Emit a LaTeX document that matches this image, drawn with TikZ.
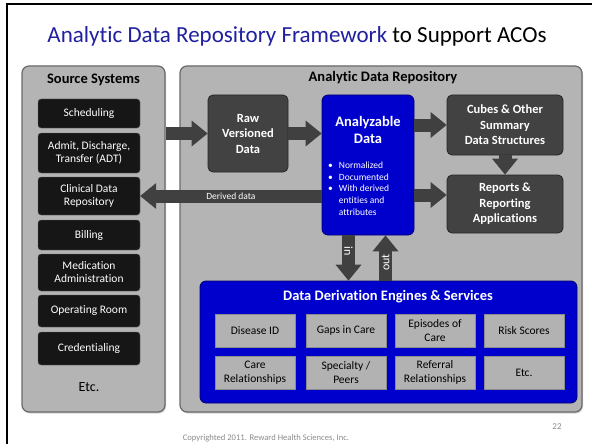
\documentclass[tikz,border=0pt]{standalone}
\usepackage{fontspec}
\setmainfont{Carlito}[Ligatures=NoCommon]
\usetikzlibrary{arrows.meta,shadows}
\definecolor{titleblue}{RGB}{32,32,160}
\definecolor{panelgray}{RGB}{180,180,180}
\definecolor{paneledge}{RGB}{105,105,105}
\definecolor{arrowgray}{RGB}{64,64,64}
\definecolor{boxblack}{RGB}{22,22,22}
\definecolor{boxdark}{RGB}{66,66,66}
\definecolor{engineblue}{RGB}{0,0,205}
\definecolor{cellgray}{RGB}{178,178,178}
\definecolor{footgray}{RGB}{140,140,140}
\begin{document}
\begin{tikzpicture}[
  x=1pt, y=-1pt,
  panel/.style={draw=paneledge, line width=1.2pt, fill=panelgray, rounded corners=7pt, inner sep=0pt,
    drop shadow={shadow xshift=1pt, shadow yshift=-1.5pt, opacity=.35}},
  paneltitle/.style={font=\fontsize{14.5}{17}\selectfont\bfseries},
  source/.style={draw=black!60, fill=boxblack, text=white, rounded corners=3pt, minimum width=102pt,
    inner sep=0pt, align=center, font=\fontsize{11.5}{13}\selectfont},
  store/.style={draw=black!85, line width=.8pt, fill=boxdark, text=white, rounded corners=5pt,
    inner sep=0pt, align=center, font=\fontsize{12.5}{15.5}\selectfont\bfseries},
  bluebox/.style={draw=blue!45!black, line width=.8pt, fill=engineblue, rounded corners=6pt, inner sep=0pt},
  service/.style={draw=black!45, fill=cellgray, minimum width=80pt, minimum height=33pt, inner sep=0pt,
    align=center, font=\fontsize{11.5}{14}\selectfont},
  flow/.style={draw=arrowgray, line width=13pt, -{Triangle[length=16pt, width=26pt, line width'=0pt]}},
  flowlabel/.style={text=white, font=\fontsize{9.5}{11}\selectfont},
]
\useasboundingbox (0,0) rectangle (592,444);
\fill[white] (0,0) rectangle (592,444);
\draw[line width=2pt] (7,460) -- (7,4) -- (600,4);

\node[font=\fontsize{23}{27}\selectfont] (title) at (297,36)
  {{\color{titleblue}Analytic Data Repository Framework} to Support ACOs};

% source systems
\node[panel, minimum width=143pt, minimum height=346pt] (src) at (93.5,239) {};
\node[paneltitle] (src title) at (93.5,80) {Source Systems};
\node[source, minimum height=29pt] (sched) at (89,113.5) {Scheduling};
\node[source, minimum height=40pt] (adt) at (89,153) {Admit, Discharge,\\Transfer (ADT)};
\node[source, minimum height=38pt] (cdr) at (89,196) {Clinical Data\\Repository};
\node[source, minimum height=30pt] (billing) at (89,235) {Billing};
\node[source, minimum height=37pt] (meds) at (89,272.5) {Medication\\Administration};
\node[source, minimum height=32pt] (orroom) at (89,311) {Operating Room};
\node[source, minimum height=33pt] (cred) at (89,348.5) {Credentialing};
\node[font=\fontsize{14}{16}\selectfont] (src etc) at (89,387) {Etc.};

% analytic data repository
\node[panel, minimum width=402pt, minimum height=346pt] (adr) at (381,239) {};
\node[paneltitle] (adr title) at (383,78) {Analytic Data Repository};
\node[store, minimum width=80pt, minimum height=77pt] (raw) at (248,133.5) {Raw\\Versioned\\Data};
\node[bluebox, minimum width=92pt, minimum height=140pt] (ana) at (368,165) {};
\node[text=white, align=center, font=\fontsize{14.5}{17}\selectfont\bfseries] (ana title) at (368,130)
  {Analyzable\\Data};
\node[text=white, anchor=north west, inner sep=0pt, font=\fontsize{9.5}{11.7}\selectfont] (ana list) at (328,160)
  {\begin{tabular}{@{}l@{\hspace{6pt}}l@{}}
   \textbullet & Normalized\\
   \textbullet & Documented\\
   \textbullet & With derived\\
               & entities and\\
               & attributes
   \end{tabular}};
\node[store, minimum width=116pt, minimum height=60pt] (cubes) at (505,125)
  {Cubes \& Other\\Summary\\Data Structures};
\node[store, minimum width=116pt, minimum height=58pt] (reports) at (505,204)
  {Reports \&\\Reporting\\Applications};

% derivation engines
\node[bluebox, minimum width=377pt, minimum height=122pt] (dde) at (388.5,342) {};
\node[text=white, font=\fontsize{14.5}{17}\selectfont\bfseries] (dde title) at (388,297)
  {Data Derivation Engines \& Services};
\node[service] (disease) at (255,330.5) {Disease ID};
\node[service] (gaps) at (346,330.5) {Gaps in Care};
\node[service] (episodes) at (435,330.5) {Episodes of\\Care};
\node[service] (risk) at (524,330.5) {Risk Scores};
\node[service] (carerel) at (255,372.5) {Care\\Relationships};
\node[service] (peers) at (346,372.5) {Specialty /\\Peers};
\node[service] (referral) at (435,372.5) {Referral\\Relationships};
\node[service] (dde etc) at (524,372.5) {Etc.};

% flows
\draw[flow] (src.east |- raw.west) -- (raw.west);
\draw[flow] (raw.east) -- (ana.west |- raw.east);
\draw[flow] (ana.east |- cubes.west) -- (cubes.west);
\draw[flow] (ana.east |- 0,195) -- ([yshift=9pt]reports.west);
\draw[flow] (cubes.south) -- (reports.north);
\draw[flow] (ana.west |- cdr.east) -- node[flowlabel] {Derived data} (cdr.east);
\draw[flow] ([xshift=-19.5pt]ana.south) -- node[pos=.35, flowlabel, rotate=-90, font=\fontsize{12}{14}\selectfont] {in}
  ([xshift=-19.5pt]ana.south |- dde.north);
\draw[flow] ([xshift=17.5pt]ana.south |- dde.north) -- node[pos=.4, flowlabel, rotate=90, font=\fontsize{12}{14}\selectfont] {out}
  ([xshift=17.5pt]ana.south);

% footer
\node[text=footgray, font=\fontsize{9}{11}\selectfont] (page) at (557,427) {22};
\node[text=footgray, anchor=base, font=\fontsize{8.6}{10}\selectfont] (copy) at (266,440.5)
  {Copyrighted 2011. Reward Health Sciences, Inc.};
\end{tikzpicture}
\end{document}
